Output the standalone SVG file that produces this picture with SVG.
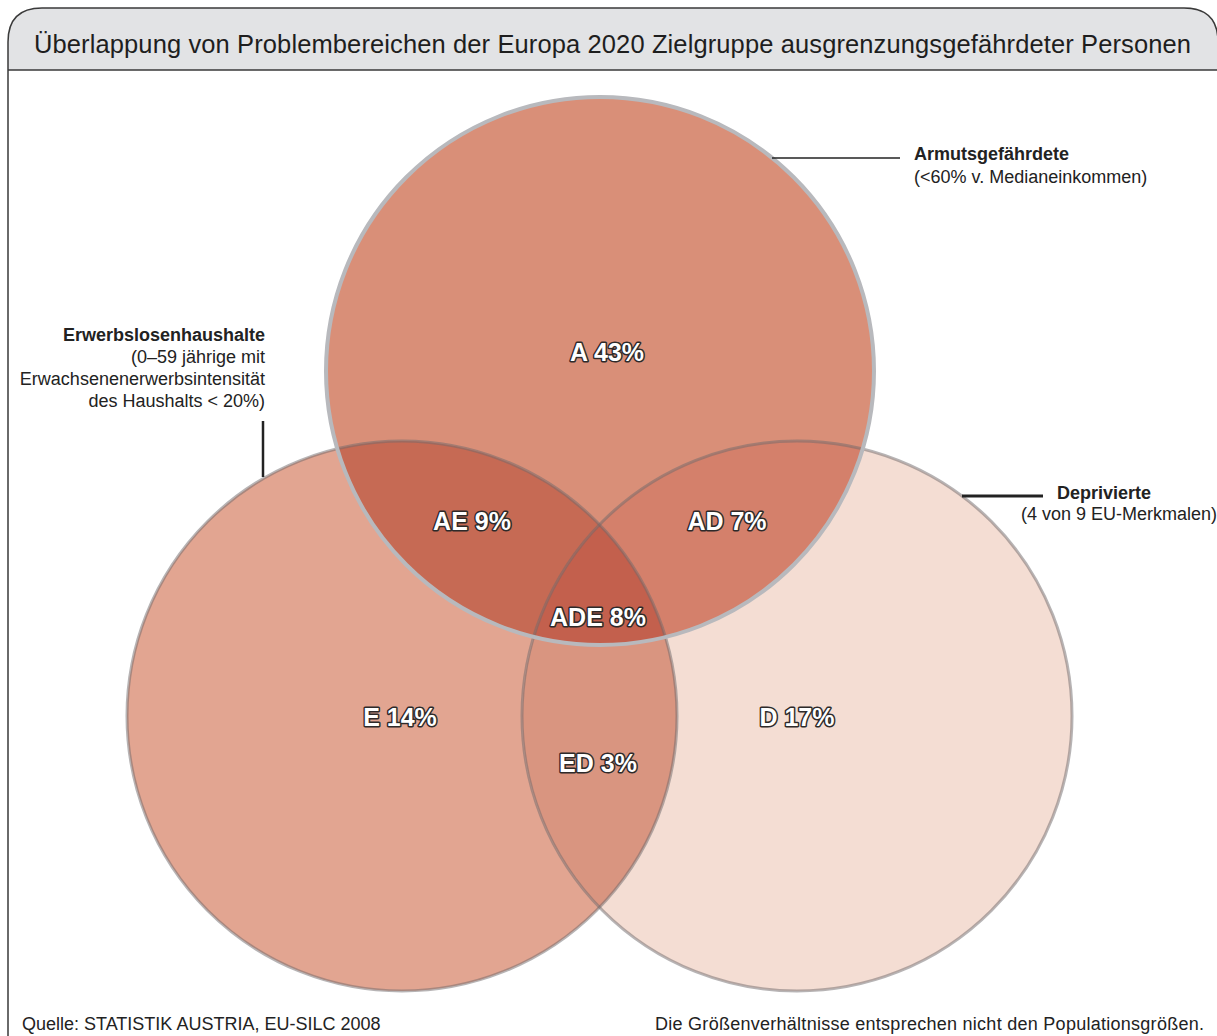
<svg xmlns="http://www.w3.org/2000/svg" width="1217" height="1036" viewBox="0 0 1217 1036">
<style>
.t{font-family:"Liberation Sans",Arial,Helvetica,sans-serif;fill:#222}
.title{font-size:25.5px;fill:#1e1e1e}
.ann{font-size:18px}
.b{font-weight:bold}
.lbl{font-family:"Liberation Sans",Arial,Helvetica,sans-serif;font-weight:bold;font-size:25px;fill:#fff;stroke:#2e2a2a;stroke-width:3px;stroke-linejoin:round;paint-order:stroke;text-anchor:middle}
.lead{stroke:#222;fill:none}
.ringED{fill:none;stroke:#6f6a6c;stroke-opacity:0.5;stroke-width:3}
.ringA{fill:none;stroke:#b8b9bd;stroke-width:4}
</style>
<defs>
<clipPath id="clipA"><circle cx="600" cy="371" r="274"/></clipPath>
<clipPath id="clipE"><circle cx="402" cy="716" r="275"/></clipPath>
<clipPath id="clipD"><circle cx="797" cy="716" r="275"/></clipPath>
</defs>
<rect x="0" y="0" width="1217" height="1036" fill="#ffffff"/>
<g id="frame">
<path d="M8,70 V42 Q8,8 42,8 H1184 Q1218,8 1218,42 V70 Z" fill="#e2e3e5"/>
<path d="M8,1036 V42 Q8,8 42,8 H1184 Q1218,8 1218,42 V1036 M8,70 H1218" fill="none" stroke="#3a3a3a" stroke-width="1.5"/>
<text class="t title" x="34" y="53" textLength="1157">Überlappung von Problembereichen der Europa 2020 Zielgruppe ausgrenzungsgefährdeter Personen</text>
</g>
<g id="node-E"><circle cx="402" cy="716" r="275" fill="#e2a591"/></g>
<g id="node-D"><circle cx="797" cy="716" r="275" fill="#f4ddd3"/></g>
<g id="region-ED"><circle cx="797" cy="716" r="275" fill="#d99580" clip-path="url(#clipE)"/></g>
<g id="node-A"><circle cx="600" cy="371" r="274" fill="#d98f78"/></g>
<g id="region-AE"><circle cx="402" cy="716" r="275" fill="#c66a54" clip-path="url(#clipA)"/></g>
<g id="region-AD"><circle cx="797" cy="716" r="275" fill="#d4806b" clip-path="url(#clipA)"/></g>
<g id="region-ADE"><g clip-path="url(#clipA)"><circle cx="797" cy="716" r="275" fill="#c3604d" clip-path="url(#clipE)"/></g></g>
<g id="outlines">
<circle class="ringED" cx="402" cy="716" r="275"/>
<circle class="ringED" cx="797" cy="716" r="275"/>
<circle class="ringA" cx="600" cy="371" r="274"/>
</g>
<g id="region-labels">
<text class="lbl" x="607" y="361">A 43%</text>
<text class="lbl" x="472" y="530">AE 9%</text>
<text class="lbl" x="727" y="530">AD 7%</text>
<text class="lbl" x="598" y="626">ADE 8%</text>
<text class="lbl" x="400" y="726">E 14%</text>
<text class="lbl" x="797" y="726">D 17%</text>
<text class="lbl" x="598" y="772">ED 3%</text>
</g>
<g id="connectors">
<line class="lead" x1="772" y1="158" x2="900" y2="158" stroke-width="1.5"/>
<line class="lead" x1="263" y1="421" x2="263" y2="477" stroke-width="2.5"/>
<line class="lead" x1="962" y1="496" x2="1043" y2="496" stroke-width="3"/>
</g>
<g id="label-A">
<text class="t ann b" x="914" y="160">Armutsgefährdete</text>
<text class="t ann" x="914" y="183">(&lt;60% v. Medianeinkommen)</text>
</g>
<g id="label-E" text-anchor="end">
<text class="t ann b" x="265" y="341">Erwerbslosenhaushalte</text>
<text class="t ann" x="265" y="363">(0–59 jährige mit</text>
<text class="t ann" x="265" y="385">Erwachsenenerwerbsintensität</text>
<text class="t ann" x="265" y="407">des Haushalts &lt; 20%)</text>
</g>
<g id="label-D">
<text class="t ann b" x="1057" y="499">Deprivierte</text>
<text class="t ann" x="1021" y="520">(4 von 9 EU-Merkmalen)</text>
</g>
<g id="footer">
<text class="t ann" x="22" y="1030">Quelle: STATISTIK AUSTRIA, EU-SILC 2008</text>
<text class="t ann" x="655" y="1030" textLength="549">Die Größenverhältnisse entsprechen nicht den Populationsgrößen.</text>
</g>
</svg>
